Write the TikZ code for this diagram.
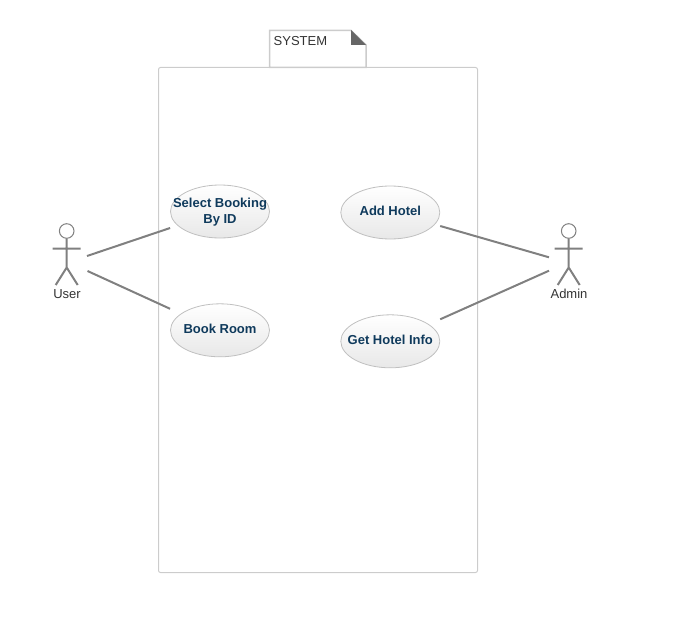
\documentclass[tikz,border=0pt]{standalone}
\usepackage{fontspec}
\setmainfont{Liberation Sans}
\usetikzlibrary{positioning,shapes.geometric}
\definecolor{usecasetext}{HTML}{0F3A5C}
\definecolor{usecaseline}{HTML}{C0C0C0}
\definecolor{boxline}{HTML}{CCCCCC}
\definecolor{folded}{HTML}{666666}
\definecolor{actorline}{HTML}{808080}
\definecolor{labeltext}{HTML}{333333}
\tikzset{
  usecase/.style={ellipse,draw=usecaseline,line width=.8pt,top color=white,bottom color=black!9,
    minimum width=99pt,minimum height=53pt,inner xsep=-32pt,inner ysep=0pt,align=center,text=usecasetext,
    font=\fontsize{13}{16}\selectfont\bfseries},
  oneline/.style={text depth=3pt},
  assoc/.style={draw=actorline,line width=2pt},
  actorlabel/.style={text=labeltext,inner sep=0pt,font=\fontsize{13}{15}\selectfont},
  actor/.pic={
    \draw[actorline,line width=2pt] (0,-7.5) -- (0,-36.5) (-14,-17.5) -- (14,-17.5)
      (-11,-54) -- (0,-36.5) -- (11,-54);
    \draw[actorline,line width=1pt,fill=white] (0,0) circle (7.3pt);
  }
}
\begin{document}
\begin{tikzpicture}[x=1pt,y=1pt]
  \useasboundingbox (0,0) rectangle (676,633);

  \draw[boxline,line width=1pt,rounded corners=2pt] (158.5,60.5) rectangle (477.5,565.5);
  \draw[boxline,line width=1.5pt,fill=white] (269.5,565.5) -- (269.5,602.5) -- (351,602.5) -- (366,588) -- (366,565.5) -- cycle;
  \fill[folded] (351,603) -- (366,588) -- (351,588) -- cycle;
  \node[text=labeltext,inner sep=0pt,anchor=west,font=\fontsize{13}{15}\selectfont] (system) at (273.5,592) {SYSTEM};

  \node[usecase] (selectbooking) at (220,421.5) {\rule{0pt}{10pt}Select Booking\\By ID};
  \node[usecase,oneline] (addhotel) [right=70.5pt of selectbooking,yshift=-1pt] {Add Hotel};
  \node[usecase,oneline] (bookroom) [below=65pt of selectbooking] {Book Room};
  \node[usecase,oneline] (gethotel) [below=75pt of addhotel] {Get Hotel Info};

  \pic at (66.7,402) {actor};
  \pic at (568.7,402) {actor};
  \node[actorlabel] (user) at (67,339) {User};
  \node[actorlabel] (admin) at (569,339) {Admin};

  \coordinate (usera) at (87,377);
  \coordinate (userb) at (87.5,362);
  \coordinate (admina) at (549,375.7);
  \coordinate (adminb) at (549,362.3);

  \path[assoc] (usera) -- ([yshift=-16.5pt]selectbooking.west);
  \path[assoc] (userb) -- ([yshift=21.5pt]bookroom.west);
  \path[assoc] (admina) -- ([yshift=-13.5pt]addhotel.east);
  \path[assoc] (adminb) -- ([yshift=22pt]gethotel.east);
\end{tikzpicture}
\end{document}
